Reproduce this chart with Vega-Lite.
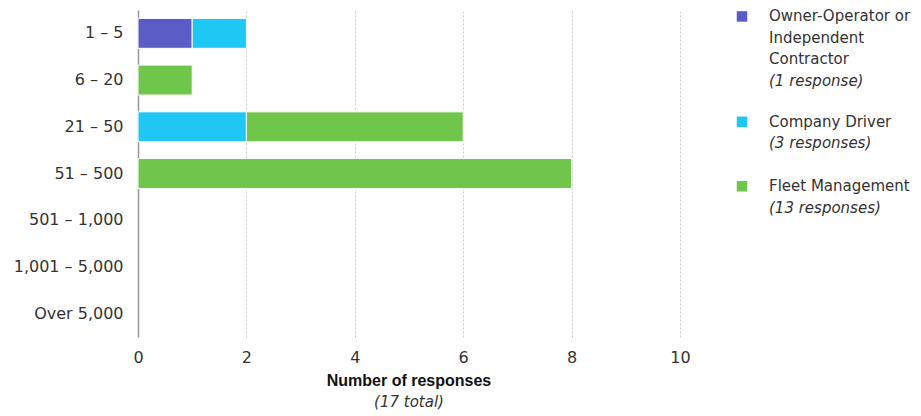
{
  "$schema": "https://vega.github.io/schema/vega-lite/v6.json",
  "padding": {"left": 13, "top": 9, "right": 0, "bottom": 0},
  "background": "white",
  "spacing": 19,
  "config": {"view": {"stroke": null}, "font": "DejaVu Sans"},
  "datasets": {
    "bars": [
      {"size": "1 – 5", "type": "Owner-Operator or Independent Contractor", "ord": 1, "n": 1},
      {"size": "1 – 5", "type": "Company Driver", "ord": 2, "n": 1},
      {"size": "6 – 20", "type": "Fleet Management", "ord": 3, "n": 1},
      {"size": "21 – 50", "type": "Company Driver", "ord": 2, "n": 2},
      {"size": "21 – 50", "type": "Fleet Management", "ord": 3, "n": 4},
      {"size": "51 – 500", "type": "Fleet Management", "ord": 3, "n": 8}
    ],
    "legend": [
      {"kind": "sym", "type": "Owner-Operator or Independent Contractor", "line": 0, "col": 1.6},
      {"kind": "sym", "type": "Company Driver", "line": 4.9, "col": 1.6},
      {"kind": "sym", "type": "Fleet Management", "line": 7.9, "col": 1.6},
      {"kind": "text", "style": "normal", "line": 0, "col": 2.95, "label": "Owner-Operator or"},
      {"kind": "text", "style": "normal", "line": 1, "col": 2.95, "label": "Independent"},
      {"kind": "text", "style": "normal", "line": 2, "col": 2.95, "label": "Contractor"},
      {"kind": "text", "style": "italic", "line": 3, "col": 2.95, "label": "(1 response)"},
      {"kind": "text", "style": "normal", "line": 4.9, "col": 2.95, "label": "Company Driver"},
      {"kind": "text", "style": "italic", "line": 5.9, "col": 2.95, "label": "(3 responses)"},
      {"kind": "text", "style": "normal", "line": 7.9, "col": 2.95, "label": "Fleet Management"},
      {"kind": "text", "style": "italic", "line": 8.9, "col": 2.95, "label": "(13 responses)"}
    ]
  },
  "hconcat": [
    {
      "width": 542,
      "height": 327,
      "data": {"name": "bars"},
      "title": {
        "text": "Number of responses",
        "subtitle": "(17 total)",
        "orient": "bottom",
        "anchor": "middle",
        "frame": "group",
        "font": "Liberation Sans",
        "fontSize": 16,
        "fontWeight": "bold",
        "color": "#111111",
        "subtitleFont": "DejaVu Sans",
        "subtitleFontSize": 15,
        "subtitleFontStyle": "italic",
        "subtitleColor": "#333333",
        "offset": 8,
        "subtitlePadding": 6
      },
      "mark": {"type": "bar", "stroke": "white", "strokeWidth": 1},
      "encoding": {
        "y": {
          "field": "size",
          "type": "nominal",
          "sort": ["1 – 5", "6 – 20", "21 – 50", "51 – 500", "501 – 1,000", "1,001 – 5,000", "Over 5,000"],
          "scale": {
            "domain": ["1 – 5", "6 – 20", "21 – 50", "51 – 500", "501 – 1,000", "1,001 – 5,000", "Over 5,000"],
            "paddingInner": 0.36,
            "paddingOuter": 0.18
          },
          "axis": {
            "title": null,
            "ticks": false,
            "labelPadding": 15,
            "labelFontSize": 16,
            "labelColor": "#333333",
            "domainColor": "#999999",
            "domainWidth": 1.5,
            "grid": false
          }
        },
        "x": {
          "field": "n",
          "type": "quantitative",
          "stack": "zero",
          "scale": {"domain": [0, 10]},
          "axis": {
            "title": null,
            "values": [0, 2, 4, 6, 8, 10],
            "ticks": false,
            "domain": false,
            "grid": true,
            "gridDash": [2, 2],
            "gridColor": "#c8c8c8",
            "labelFontSize": 16,
            "labelPadding": 12,
            "labelFlush": false,
            "labelColor": "#333333"
          }
        },
        "color": {
          "field": "type",
          "type": "nominal",
          "scale": {
            "domain": ["Owner-Operator or Independent Contractor", "Company Driver", "Fleet Management"],
            "range": ["#5c5cc6", "#1fc8f4", "#70c64a"]
          },
          "legend": null
        },
        "order": {"field": "ord", "type": "quantitative"}
      }
    },
    {
      "width": 200,
      "height": 327,
      "data": {"name": "legend"},
      "encoding": {
        "x": {"field": "col", "type": "quantitative", "scale": {"domain": [0, 10]}, "axis": null},
        "y": {"field": "line", "type": "quantitative", "scale": {"domain": [-0.3, 14.91], "reverse": true}, "axis": null}
      },
      "layer": [
        {
          "transform": [{"filter": "datum.kind === 'sym'"}],
          "mark": {"type": "square", "size": 110, "opacity": 1, "filled": true},
          "encoding": {
            "color": {
              "field": "type",
              "type": "nominal",
              "scale": {
                "domain": ["Owner-Operator or Independent Contractor", "Company Driver", "Fleet Management"],
                "range": ["#5c5cc6", "#1fc8f4", "#70c64a"]
              },
              "legend": null
            }
          }
        },
        {
          "transform": [{"filter": "datum.kind === 'text' && datum.style === 'normal'"}],
          "mark": {"type": "text", "align": "left", "baseline": "middle", "fontSize": 15, "color": "#333333"},
          "encoding": {"text": {"field": "label"}}
        },
        {
          "transform": [{"filter": "datum.kind === 'text' && datum.style === 'italic'"}],
          "mark": {"type": "text", "align": "left", "baseline": "middle", "fontSize": 15, "fontStyle": "italic", "color": "#333333"},
          "encoding": {"text": {"field": "label"}}
        }
      ]
    }
  ]
}
